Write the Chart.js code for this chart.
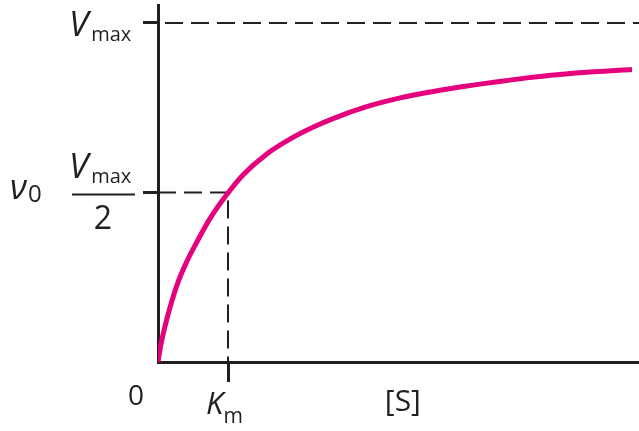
<!DOCTYPE html>
<html>
<head>
<meta charset="utf-8">
<script src="https://cdn.jsdelivr.net/npm/chart.js@4"></script>
<style>
  html, body { margin: 0; padding: 0; background: #fff; }
  #graph { display: block; }
</style>
</head>
<body>
<canvas id="graph" width="639" height="431"></canvas>
<script>
// substrate concentration in units of Km, rate in units of Vmax
var sValues = [0, 0.04, 0.10, 0.17, 0.29, 0.42, 0.55, 0.74, 0.98, 1.22, 1.55, 1.89, 2.22, 2.50, 2.98, 3.46, 3.93, 4.41, 4.79, 5.27, 5.74, 6.22, 6.77];
var vValues = [0, 0.050, 0.105, 0.160, 0.238, 0.300, 0.352, 0.422, 0.493, 0.553, 0.613, 0.658, 0.693, 0.718, 0.753, 0.779, 0.798, 0.814, 0.825, 0.838, 0.848, 0.856, 0.863];

var xTicks = [1];          // Km
var yTicks = [0.5, 1];     // Vmax/2, Vmax
var xMax = 6.87;
var yMax = 1.053;

var ink = '#231f20';
var pink = '#e5007d';

var curve = sValues.map(function (s, i) { return { x: s, y: vValues[i] }; });
var vmaxLine = [{ x: 0, y: yTicks[1] }, { x: xMax, y: yTicks[1] }];
var halfLine = [{ x: 0, y: yTicks[0] }, { x: xTicks[0], y: yTicks[0] }, { x: xTicks[0], y: 0 }];

function font(size, italic) {
    return (italic ? 'italic ' : '') + size + 'px "Open Sans", "DejaVu Sans", sans-serif';
}

// italic letter followed by an upright subscript
function withSub(ctx, main, sub, x, y, size, subSize, drop, kern) {
    ctx.font = font(size, true);
    ctx.fillText(main, x, y);
    var w = ctx.measureText(main).width;
    ctx.font = font(subSize, false);
    ctx.fillText(sub, x + w + kern, y + drop);
}

var labelsPlugin = {
    id: 'mmLabels',
    afterDraw: function (chart) {
        var ctx = chart.ctx;
        var xs = chart.scales.x, ys = chart.scales.y;
        var ax = xs.getPixelForValue(0);
        var ay = ys.getPixelForValue(0);
        var yV = ys.getPixelForValue(yTicks[1]);
        var yH = ys.getPixelForValue(yTicks[0]);
        var xK = xs.getPixelForValue(xTicks[0]);
        ctx.save();
        ctx.fillStyle = ink;
        ctx.strokeStyle = ink;
        ctx.textBaseline = 'alphabetic';
        ctx.textAlign = 'left';

        // Vmax
        withSub(ctx, 'V', 'max', ax - 89, yV + 13, 35, 20, 5, 3);

        // Vmax / 2
        withSub(ctx, 'V', 'max', ax - 89, yH - 14, 35, 20, 5, 3);
        ctx.lineWidth = 2;
        ctx.beginPath();
        ctx.moveTo(ax - 86, yH + 2);
        ctx.lineTo(ax - 23, yH + 2);
        ctx.stroke();
        ctx.textAlign = 'center';
        ctx.font = font(32, false);
        ctx.fillText('2', ax - 55, yH + 37);

        // v0
        ctx.textAlign = 'left';
        ctx.font = font(34, true);
        ctx.fillText('\u03bd', 10, yH + 7);
        ctx.font = font(24, false);
        ctx.fillText('0', 28, yH + 10);

        // x axis labels
        ctx.textAlign = 'right';
        ctx.font = font(28, false);
        ctx.fillText('0', ax - 14, ay + 43);

        ctx.textAlign = 'left';
        withSub(ctx, 'K', 'm', xK - 22, ay + 52, 31, 21, 9, 0);

        ctx.font = font(30, false);
        ctx.fillText('[S]', xs.getPixelForValue(3.24), ay + 49);
        ctx.restore();
    }
};

var axisGrid = function (len) {
    return {
        display: true,
        drawOnChartArea: false,
        drawTicks: true,
        tickLength: len,
        lineWidth: 3,
        color: ink
    };
};

var chart = new Chart(document.getElementById('graph').getContext('2d'), {
    type: 'line',
    data: {
        datasets: [{
            data: curve,
            borderColor: pink,
            borderWidth: 5,
            cubicInterpolationMode: 'monotone',
            fill: false,
            order: 0
        }, {
            data: vmaxLine,
            borderColor: ink,
            borderWidth: 2,
            borderDash: [18, 8],
            borderDashOffset: -7,
            fill: false,
            order: 1
        }, {
            data: halfLine,
            borderColor: ink,
            borderWidth: 2,
            borderDash: [18, 8],
            fill: false,
            order: 1
        }]
    },
    options: {
        responsive: false,
        animation: false,
        events: [],
        layout: { padding: { left: 143, top: 5, right: 0, bottom: 49 } },
        elements: { point: { radius: 0 } },
        plugins: { legend: { display: false }, tooltip: { enabled: false } },
        scales: {
            x: {
                type: 'linear',
                min: 0,
                max: xMax,
                afterBuildTicks: function (s) { s.ticks = xTicks.map(function (v) { return { value: v }; }); },
                ticks: { display: false },
                grid: axisGrid(20),
                border: { display: true, width: 3, color: ink }
            },
            y: {
                type: 'linear',
                min: 0,
                max: yMax,
                afterBuildTicks: function (s) { s.ticks = yTicks.map(function (v) { return { value: v }; }); },
                ticks: { display: false },
                grid: axisGrid(15),
                border: { display: true, width: 3, color: ink }
            }
        }
    },
    plugins: [labelsPlugin]
});
</script>
</body>
</html>
